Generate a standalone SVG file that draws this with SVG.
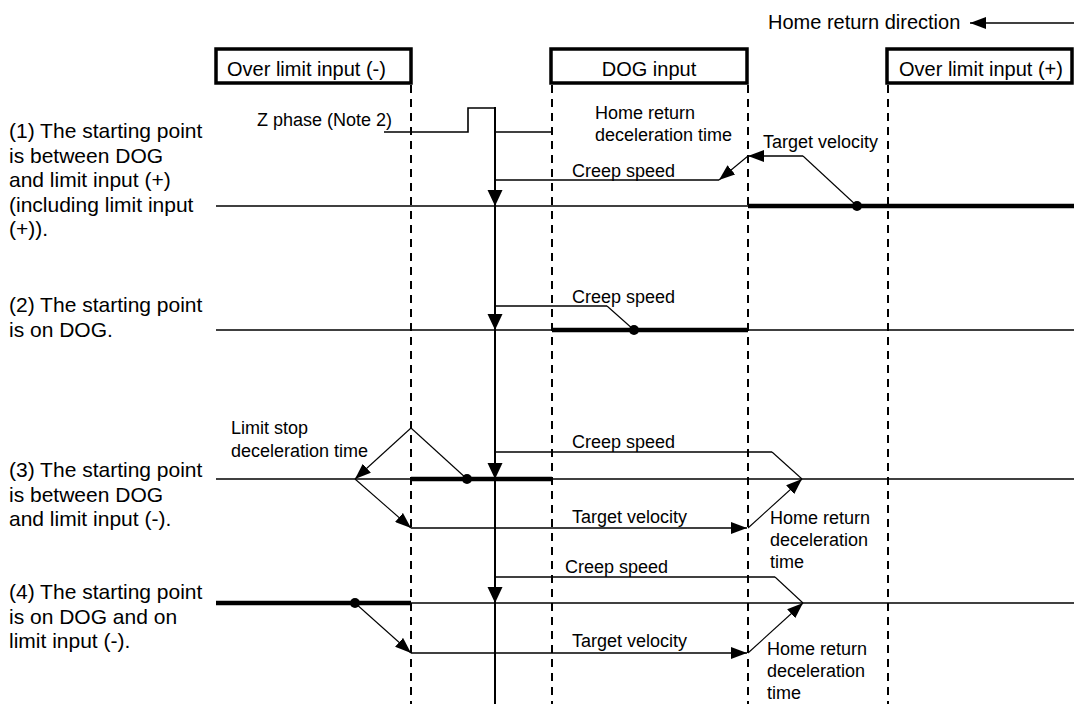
<svg xmlns="http://www.w3.org/2000/svg" xmlns:xlink="http://www.w3.org/1999/xlink" width="1074" height="704" viewBox="0 0 1074 704">
<style>
text{font-family:"Liberation Sans",Arial,sans-serif;fill:#000}
.lbl{font-size:21px}
.box{font-size:20px}
.sm{font-size:18px}
.boxr{fill:#fff;stroke:#000;stroke-width:3.5}
.dash{stroke:#000;stroke-width:2;stroke-dasharray:8 6;fill:none}
.tl{stroke:#000;stroke-width:1.6;fill:none}
.thick{stroke:#000;stroke-width:4.5;fill:none}
.sp{stroke:#000;stroke-width:1.6;fill:none}
.dg{stroke:#000;stroke-width:1.1;fill:none}
.arr{stroke:#000;stroke-width:1.1;fill:none;marker-end:url(#ah)}
.arrh{stroke:#000;stroke-width:1.6;fill:none;marker-end:url(#ah)}
</style>
<defs>
<marker id="ah" viewBox="0 0 16 12" refX="16" refY="6" markerWidth="16" markerHeight="12" markerUnits="userSpaceOnUse" orient="auto"><path d="M0,0 L16,6 L0,12 z" fill="#000"/></marker>
<path id="down" d="M-7.5,-16 L7.5,-16 L0,0 z" fill="#000"/>
</defs>
<rect width="1074" height="704" fill="#fff"/>

<g id="direction">
<text class="box" x="768" y="29">Home return direction</text>
<line class="arrh" x1="1074" y1="23" x2="970" y2="23"/>
</g>

<g id="limit-minus"><rect class="boxr" x="216" y="49" width="195" height="34"/><text class="box" x="227" y="76">Over limit input (-)</text></g>
<g id="dog"><rect class="boxr" x="551" y="49" width="196" height="34"/><text class="box" x="649" y="76" text-anchor="middle">DOG input</text></g>
<g id="limit-plus"><rect class="boxr" x="887" y="49" width="185" height="34"/><text class="box" x="899" y="76">Over limit input (+)</text></g>

<g id="case-labels">
<text class="lbl" x="9" y="138">(1) The starting point</text>
<text class="lbl" x="9" y="162.5">is between DOG</text>
<text class="lbl" x="9" y="187">and limit input (+)</text>
<text class="lbl" x="9" y="211.5">(including limit input</text>
<text class="lbl" x="9" y="236">(+)).</text>
<text class="lbl" x="9" y="312">(2) The starting point</text>
<text class="lbl" x="9" y="336.5">is on DOG.</text>
<text class="lbl" x="9" y="477">(3) The starting point</text>
<text class="lbl" x="9" y="501.5">is between DOG</text>
<text class="lbl" x="9" y="526">and limit input (-).</text>
<text class="lbl" x="9" y="599">(4) The starting point</text>
<text class="lbl" x="9" y="623.5">is on DOG and on</text>
<text class="lbl" x="9" y="648">limit input (-).</text>
</g>

<g id="connectors">
<line class="dash" x1="411" y1="85" x2="411" y2="704"/>
<line class="dash" x1="552" y1="85" x2="552" y2="704"/>
<line class="dash" x1="748" y1="85" x2="748" y2="704"/>
<line class="dash" x1="888" y1="85" x2="888" y2="704"/>

<path class="tl" d="M384,132 H468 V108 H495"/>
<line class="tl" x1="496" y1="132" x2="552" y2="132"/>
<line stroke="#000" stroke-width="2" x1="495" y1="107" x2="495" y2="704"/>

<line class="tl" x1="216" y1="206" x2="748" y2="206"/>
<line class="thick" x1="748" y1="206" x2="1074" y2="206"/>
<line class="sp" x1="495" y1="180" x2="719" y2="180"/>
<line class="arr" x1="748" y1="156" x2="719" y2="180"/>
<line class="arrh" x1="803" y1="156" x2="748" y2="156"/>
<line class="dg" x1="803" y1="156" x2="857" y2="206"/>
<circle cx="857" cy="206" r="5"/>
<use xlink:href="#down" x="495" y="206"/>

<line class="tl" x1="216" y1="330" x2="1074" y2="330"/>
<line class="thick" x1="552" y1="330" x2="748" y2="330"/>
<line class="sp" x1="495" y1="306" x2="607" y2="306"/>
<line class="dg" x1="607" y1="306" x2="634" y2="330"/>
<circle cx="634" cy="330" r="5"/>
<use xlink:href="#down" x="495" y="330"/>

<line class="tl" x1="216" y1="479" x2="1074" y2="479"/>
<line class="thick" x1="411" y1="479" x2="552" y2="479"/>
<line class="dg" x1="411" y1="428" x2="467" y2="479"/>
<circle cx="467" cy="479" r="5"/>
<line class="arr" x1="411" y1="428" x2="355" y2="479"/>
<line class="arr" x1="355" y1="479" x2="411" y2="528"/>
<line class="arrh" x1="411" y1="528" x2="747" y2="528"/>
<line class="arr" x1="748" y1="528" x2="802" y2="479"/>
<line class="sp" x1="495" y1="452" x2="772" y2="452"/>
<line class="dg" x1="772" y1="452" x2="802" y2="479"/>
<use xlink:href="#down" x="495" y="479"/>

<line class="thick" x1="216" y1="603" x2="411" y2="603"/>
<line class="tl" x1="411" y1="603" x2="1074" y2="603"/>
<circle cx="355" cy="603" r="5"/>
<line class="arr" x1="355" y1="603" x2="411" y2="653"/>
<line class="arrh" x1="411" y1="653" x2="747" y2="653"/>
<line class="arr" x1="748" y1="653" x2="803" y2="603"/>
<line class="sp" x1="495" y1="577" x2="775" y2="577"/>
<line class="dg" x1="775" y1="577" x2="803" y2="603"/>
<use xlink:href="#down" x="495" y="603"/>
</g>

<g id="annotations">
<text class="sm" x="257" y="126">Z phase (Note 2)</text>
<text class="sm" x="595" y="119">Home return</text>
<text class="sm" x="595" y="141">deceleration time</text>
<text class="sm" x="763" y="148">Target velocity</text>
<text class="sm" x="572" y="177">Creep speed</text>
<text class="sm" x="572" y="303">Creep speed</text>
<text class="sm" x="231" y="434">Limit stop</text>
<text class="sm" x="231" y="456.5">deceleration time</text>
<text class="sm" x="572" y="448">Creep speed</text>
<text class="sm" x="572" y="523">Target velocity</text>
<text class="sm" x="770" y="524">Home return</text>
<text class="sm" x="770" y="546">deceleration</text>
<text class="sm" x="770" y="568">time</text>
<text class="sm" x="565" y="573">Creep speed</text>
<text class="sm" x="572" y="647">Target velocity</text>
<text class="sm" x="767" y="655">Home return</text>
<text class="sm" x="767" y="677">deceleration</text>
<text class="sm" x="767" y="699">time</text>
</g>
</svg>
